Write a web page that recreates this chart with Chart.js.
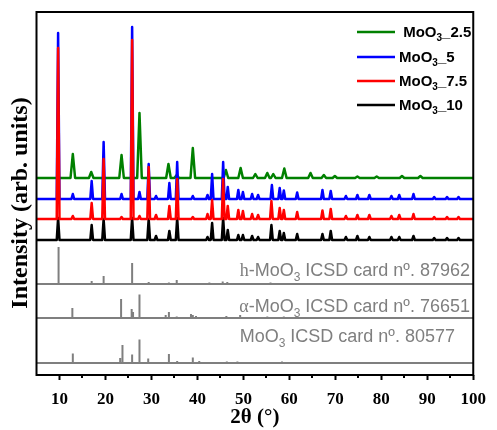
<!DOCTYPE html>
<html>
<head>
<meta charset="utf-8">
<script src="https://cdn.jsdelivr.net/npm/chart.js@4.4.1/dist/chart.umd.min.js"></script>
<style>
  html, body { margin: 0; padding: 0; background: #fff; }
</style>
</head>
<body>
<canvas id="xrd" width="497" height="430"></canvas>
<script>
// 2θ 축 눈금
const X_TICKS = [10, 20, 30, 40, 50, 60, 70, 80, 90, 100];
const X_MINOR = [15, 25, 35, 45, 55, 65, 75, 85, 95];

// 시료 이름 (범례 순서)
const SAMPLE_LABELS = [' MoO3_2.5', 'MoO3_5', 'MoO3_7.5', 'MoO3_10'];
// 각 패턴의 기준선 (arb. units)
const SAMPLE_BASES = [197, 176, 156, 135];

// 피크 목록 [2θ, 세기]
const PEAKS_2_5 = [
    [12.9, 24], [16.9, 6], [23.5, 23], [27.4, 65], [33.7, 14], [35.5, 3],
    [39.0, 30], [46.2, 8], [49.4, 10], [52.6, 4], [55.2, 5], [56.5, 4],
    [58.9, 9.5], [64.6, 5], [67.5, 3], [69.9, 2], [74.8, 1.5], [79.0, 1.5],
    [84.5, 2], [88.5, 2]
];
const PEAKS_5 = [
    [9.7, 166], [12.9, 5], [17.0, 18], [19.6, 57], [23.5, 5], [25.8, 172],
    [27.4, 7], [29.4, 35], [31.0, 3], [33.9, 16], [35.6, 37], [39.0, 3],
    [42.2, 4], [43.2, 25], [45.6, 37], [46.6, 12], [48.9, 9], [49.9, 7],
    [51.9, 5], [53.2, 4], [56.2, 14], [57.9, 11], [58.8, 8.5], [61.7, 6.5],
    [67.2, 9], [69.0, 8], [72.3, 3], [74.8, 4], [77.4, 4], [82.2, 3],
    [83.9, 4], [87.0, 5], [91.5, 2], [94.3, 2], [96.8, 2]
];
const PEAKS_7_5 = [
    [9.7, 171], [12.9, 3], [17.0, 16], [19.6, 60], [23.5, 2], [25.8, 179],
    [27.4, 3], [29.4, 52], [31.0, 4], [33.9, 13], [35.6, 40], [39.0, 2],
    [42.2, 5], [43.2, 19], [45.6, 40], [46.6, 13], [48.9, 9], [49.9, 8],
    [51.9, 5], [53.2, 4], [56.1, 18], [57.9, 11], [58.8, 9], [61.7, 7],
    [67.2, 8.5], [69.0, 10], [72.3, 3], [74.8, 4], [77.4, 4], [82.2, 3],
    [83.9, 4], [87.0, 5], [91.5, 2], [94.3, 2], [96.8, 2]
];
const PEAKS_10 = [
    [9.7, 22], [17.0, 15], [19.6, 21], [25.8, 22], [29.4, 21], [31.0, 4],
    [33.9, 9], [35.6, 22], [42.2, 3], [43.2, 17], [45.6, 22], [46.6, 10],
    [48.9, 5], [49.9, 5], [51.9, 4], [53.2, 3], [56.1, 15], [57.9, 9],
    [58.8, 7], [61.7, 6], [67.2, 6], [69.0, 9], [72.3, 3], [74.8, 4],
    [77.4, 3], [82.2, 3], [83.9, 3], [87.0, 4], [91.5, 2], [94.3, 2], [96.8, 2]
];
const SAMPLE_PEAKS = [PEAKS_2_5, PEAKS_5, PEAKS_7_5, PEAKS_10];

// ICSD 카드 (막대 패턴)
const CARD_LABELS = ['h-MoO3 ICSD card nº. 87962', 'α-MoO3 ICSD card nº. 76651', 'MoO3 ICSD card nº. 80577'];
const CARD_BASES = [91, 57, 12];
const CARD_87962 = [
    [9.8, 37], [17.0, 3], [19.6, 8], [25.8, 21], [29.4, 2], [31.2, 1],
    [33.8, 1.5], [35.5, 4], [39.0, 1], [42.6, 1.5], [45.5, 2.5], [46.5, 2],
    [49.8, 1], [52.6, 1], [55.9, 1.5], [58.0, 1], [59.4, 1], [62.0, 1],
    [64.8, 1], [68.0, 1], [72.0, 1], [75.0, 1], [78.0, 1]
];
const CARD_76651 = [
    [12.8, 10], [23.4, 19], [25.7, 9], [26.0, 6], [27.4, 23.5], [29.7, 1],
    [33.1, 3], [33.8, 6], [35.5, 1.5], [38.6, 4], [39.0, 3], [39.7, 2],
    [42.3, 1], [45.7, 1], [46.3, 2], [49.3, 3], [50.5, 1], [52.8, 1],
    [54.1, 1], [55.2, 1.5], [56.4, 1], [57.7, 1], [58.8, 1.5], [64.5, 1], [67.5, 1]
];
const CARD_80577 = [
    [12.9, 9.5], [23.2, 5], [23.7, 18], [25.8, 8.5], [27.4, 23.5], [29.3, 4.5],
    [33.8, 9], [35.6, 2], [39.0, 5.5], [40.4, 2], [45.8, 1], [46.4, 1.5],
    [47.0, 1], [48.7, 1.5], [49.3, 1], [51.0, 1], [52.3, 1], [53.6, 1],
    [55.0, 1], [56.8, 1], [58.4, 1.5], [60.5, 1], [64.5, 1], [67.5, 1]
];
const CARD_PEAKS = [CARD_87962, CARD_76651, CARD_80577];

// 스타일
const SAMPLE_COLORS = ['#008000', '#0000ff', '#ff0000', '#000000'];
const SAMPLE_ORDER = [2, 1, 0, 3];
const PEAK_HALF_WIDTH = [0.5, 0.3, 0.3, 0.3];
const CARD_COLOR = '#7f7f7f';
const LEGEND = { x0: 357, x1: 395, rows: [32, 57, 81, 105] };
const CARD_TEXT = { right: [470, 470, 455], lift: [8, 6, 21] };

// 피크 목록 -> 선 좌표
function buildPattern(peaks, base, hw) {
    const pts = [{ x: 5, y: base }];
    peaks.forEach(([pos, h]) => {
        pts.push({ x: pos - hw, y: base }, { x: pos, y: base + h }, { x: pos + hw, y: base });
    });
    pts.push({ x: 100, y: base });
    return pts;
}

const datasets = SAMPLE_LABELS.map((label, i) => ({
    label: label,
    data: buildPattern(SAMPLE_PEAKS[i], SAMPLE_BASES[i], PEAK_HALF_WIDTH[i]),
    borderColor: SAMPLE_COLORS[i],
    borderWidth: 2.5,
    borderJoinStyle: 'round',
    pointRadius: 0,
    order: SAMPLE_ORDER[i]
})).concat(CARD_LABELS.map((label, i) => ({
    label: label,
    data: buildPattern(CARD_PEAKS[i], CARD_BASES[i], 0),
    borderColor: CARD_COLOR,
    borderWidth: 2,
    pointRadius: 0,
    order: 4
})));

// "MoO3" 의 3 을 아래첨자로 그리기
function richParts(text) {
    const parts = [];
    let rest = text;
    if (rest.startsWith('h-') || rest.startsWith('α-')) {
        parts.push({ t: rest[0], serif: true });
        rest = rest.slice(1);
    }
    const idx = rest.indexOf('MoO3');
    parts.push({ t: rest.slice(0, idx + 3) });
    parts.push({ t: '3', sub: true });
    parts.push({ t: rest.slice(idx + 4) });
    return parts;
}

function drawRich(ctx, text, x, y, size, weight, color, alignRight) {
    const parts = richParts(text);
    const fontOf = p => p.sub
        ? `${weight} ${Math.round(size * 0.68)}px "Liberation Sans", Arial, sans-serif`
        : p.serif ? `${weight} ${size}px "Liberation Serif", "Times New Roman", serif`
                  : `${weight} ${size}px "Liberation Sans", Arial, sans-serif`;
    let total = 0;
    parts.forEach(p => { ctx.font = fontOf(p); total += ctx.measureText(p.t).width; });
    let cx = alignRight ? x - total : x;
    ctx.fillStyle = color;
    ctx.textAlign = 'left';
    ctx.textBaseline = 'alphabetic';
    parts.forEach(p => {
        ctx.font = fontOf(p);
        ctx.fillText(p.t, cx, p.sub ? y + size * 0.28 : y);
        cx += ctx.measureText(p.t).width;
    });
}

const decorPlugin = {
    id: 'decor',
    afterDraw(chart) {
        const { ctx, chartArea: a, scales: { x, y } } = chart;
        ctx.save();

        // 보조 눈금
        ctx.strokeStyle = '#000';
        ctx.lineWidth = 2;
        X_MINOR.forEach(v => {
            const px = Math.round(x.getPixelForValue(v));
            ctx.beginPath();
            ctx.moveTo(px, a.bottom);
            ctx.lineTo(px, a.bottom + 3);
            ctx.stroke();
        });

        // 테두리
        ctx.strokeRect(a.left, a.top, a.right - a.left, a.bottom - a.top);

        // 범례
        SAMPLE_LABELS.forEach((label, i) => {
            const ry = LEGEND.rows[i];
            ctx.strokeStyle = SAMPLE_COLORS[i];
            ctx.lineWidth = 2.5;
            ctx.beginPath();
            ctx.moveTo(LEGEND.x0, ry);
            ctx.lineTo(LEGEND.x1, ry);
            ctx.stroke();
            drawRich(ctx, label, LEGEND.x1 + 4, ry + 5, 15, 'bold', '#000', false);
        });

        // 카드 라벨
        CARD_LABELS.forEach((label, i) => {
            const by = y.getPixelForValue(CARD_BASES[i]) - CARD_TEXT.lift[i];
            drawRich(ctx, label, CARD_TEXT.right[i], by, 18, 'normal', CARD_COLOR, true);
        });

        // y축 제목
        ctx.translate(21, 203);
        ctx.rotate(-Math.PI / 2);
        ctx.font = 'bold 24px "Liberation Serif", "Times New Roman", serif';
        ctx.fillStyle = '#000';
        ctx.textAlign = 'center';
        ctx.textBaseline = 'middle';
        ctx.fillText('Intensity (arb. units)', 0, 0);
        ctx.restore();
    }
};

new Chart(document.getElementById('xrd'), {
    type: 'line',
    data: { datasets: datasets },
    options: {
        responsive: false,
        animation: false,
        devicePixelRatio: 1,
        layout: { padding: { left: 36.5, right: 15, top: 12, bottom: 0 } },
        plugins: {
            legend: { display: false },
            tooltip: { enabled: false }
        },
        scales: {
            x: {
                type: 'linear',
                min: 5,
                max: 100,
                afterBuildTicks: axis => { axis.ticks = X_TICKS.map(v => ({ value: v })); },
                afterFit: axis => { axis.height = 55; },
                ticks: {
                    color: '#000',
                    padding: 11,
                    maxRotation: 0,
                    autoSkip: false,
                    font: { family: '"Liberation Serif", "Times New Roman", serif', weight: 'bold', size: 17, lineHeight: 1 }
                },
                grid: { drawOnChartArea: false, drawTicks: true, tickLength: 5, tickWidth: 2, tickColor: '#000' },
                border: { display: false },
                title: {
                    display: true,
                    text: '2θ (°)',
                    color: '#000',
                    padding: { top: 0, bottom: 1.5 },
                    font: { family: '"Liberation Serif", "Times New Roman", serif', weight: 'bold', size: 21, lineHeight: 1 }
                }
            },
            y: { type: 'linear', min: 0, max: 363, display: false }
        }
    },
    plugins: [decorPlugin]
});
</script>
</body>
</html>
